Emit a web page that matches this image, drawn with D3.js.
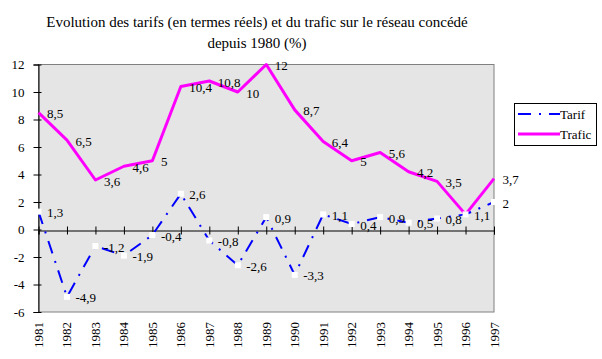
<!DOCTYPE html>
<html><head><meta charset="utf-8">
<script src="https://cdn.jsdelivr.net/npm/d3@7/dist/d3.min.js"></script>
<style>
html,body{margin:0;padding:0;background:#fff;}
svg{display:block;}
</style></head>
<body>
<svg id="c" width="602" height="359"></svg>
<script>
const years = [1981,1982,1983,1984,1985,1986,1987,1988,1989,1990,1991,1992,1993,1994,1995,1996,1997];
const tarif = [1.3,-4.9,-1.2,-1.9,-0.4,2.6,-0.8,-2.6,0.9,-3.3,1.1,0.4,0.9,0.5,0.8,1.1,2];
const trafic = [8.5,6.5,3.6,4.6,5,10.4,10.8,10,12,8.7,6.4,5,5.6,4.2,3.5,1.1,3.7];
const yTicks = [-6,-4,-2,0,2,4,6,8,10,12];
const titleLines = ["Evolution des tarifs (en termes réels) et du trafic sur le réseau concédé","depuis 1980 (%)"];
const seriesNames = ["Tarif","Trafic"];

const svg = d3.select("#c");
const L = 38.5, R = 494, T = 64.5, B = 312;
const x = d3.scaleLinear().domain([years[0], years[years.length-1]]).range([L, R]);
const y = d3.scaleLinear().domain([-6, 12]).range([B, T]);
const serif = "'Liberation Serif','Times New Roman',serif";
const fmt = v => String(v).replace(".", ",");

// title
svg.append("g").selectAll("text").data(titleLines).join("text")
  .attr("x", 257).attr("y", (d,i) => 27 + i*21)
  .attr("text-anchor","middle").attr("font-family", serif).attr("font-size", 15)
  .attr("fill","#000").text(d => d);

// plot background
svg.append("rect").attr("x", L).attr("y", T).attr("width", R-L).attr("height", B-T)
  .attr("fill", "#e5e5e5").attr("stroke", "#808080").attr("stroke-width", 1);

// y axis
const yAxis = d3.axisLeft(y).tickValues(yTicks).tickSize(5).tickPadding(9).tickFormat(d => d);
const gy = svg.append("g").attr("transform", `translate(${L},0)`).call(yAxis);
gy.select(".domain").attr("stroke", "#000");
gy.selectAll(".tick line").attr("stroke","#000").attr("x2", -5).attr("x1", 3);
gy.selectAll(".tick text").attr("font-family", serif).attr("font-size", 13).attr("fill","#000");

// x axis at zero
const xAxis = d3.axisBottom(x).tickValues(years).tickSize(4).tickFormat("");
const gx = svg.append("g").attr("transform", `translate(0,${Math.round(y(0))+0.5})`).call(xAxis);
gx.select(".domain").attr("stroke","#000");
gx.selectAll(".tick line").attr("stroke","#000").attr("y1", -4).attr("y2", 4);

// year labels (rotated) at bottom
svg.append("g").selectAll("text").data(years).join("text")
  .attr("transform", d => `translate(${x(d)+4.5},322) rotate(-90)`)
  .attr("text-anchor","end").attr("font-family", serif).attr("font-size", 13)
  .attr("fill","#000").text(d => d);

const line = d3.line().x((d,i) => x(years[i])).y(d => y(d));

// trafic line
svg.append("path").datum(trafic).attr("d", line).attr("fill","none")
  .attr("stroke","#ff00ff").attr("stroke-width", 3).attr("stroke-linejoin","round");

// tarif line
svg.append("path").datum(tarif).attr("d", line).attr("fill","none")
  .attr("stroke","#0000ff").attr("stroke-width", 2).attr("stroke-dasharray","13,8,2,8");

// markers on tarif
svg.append("g").selectAll("rect").data(tarif).join("rect")
  .attr("x", (d,i) => x(years[i]) - 3).attr("y", d => y(d) - 3)
  .attr("width", 6).attr("height", 6).attr("fill", "#fff");

// data labels (identical overlapping labels drawn once)
function labels(arr, skip) {
  svg.append("g").selectAll("text").data(arr.map((v,i) => ({v, i})).filter(d => !skip || skip[d.i] !== d.v)).join("text")
    .attr("x", d => x(years[d.i]) + 8.5).attr("y", d => y(d.v) + 5.5)
    .attr("font-family", serif).attr("font-size", 13).attr("fill","#000")
    .text(d => fmt(d.v));
}
labels(trafic, null);
labels(tarif, trafic);

// legend
const lg = svg.append("g");
lg.append("rect").attr("x", 514.5).attr("y", 103.5).attr("width", 82).attr("height", 42)
  .attr("fill","#fff").attr("stroke","#000");
const lItems = [{name: seriesNames[0], color:"#0000ff", w:2, dash:"13,8,2,8", yy:114},
                {name: seriesNames[1], color:"#ff00ff", w:3, dash:null, yy:134}];
lItems.forEach(it => {
  lg.append("line").attr("x1", 518).attr("x2", 560).attr("y1", it.yy).attr("y2", it.yy)
    .attr("stroke", it.color).attr("stroke-width", it.w).attr("stroke-dasharray", it.dash);
  lg.append("text").attr("x", 560).attr("y", it.yy + 4.5).attr("font-family", serif)
    .attr("font-size", 13).attr("fill","#000").text(it.name);
});
</script>
</body></html>
